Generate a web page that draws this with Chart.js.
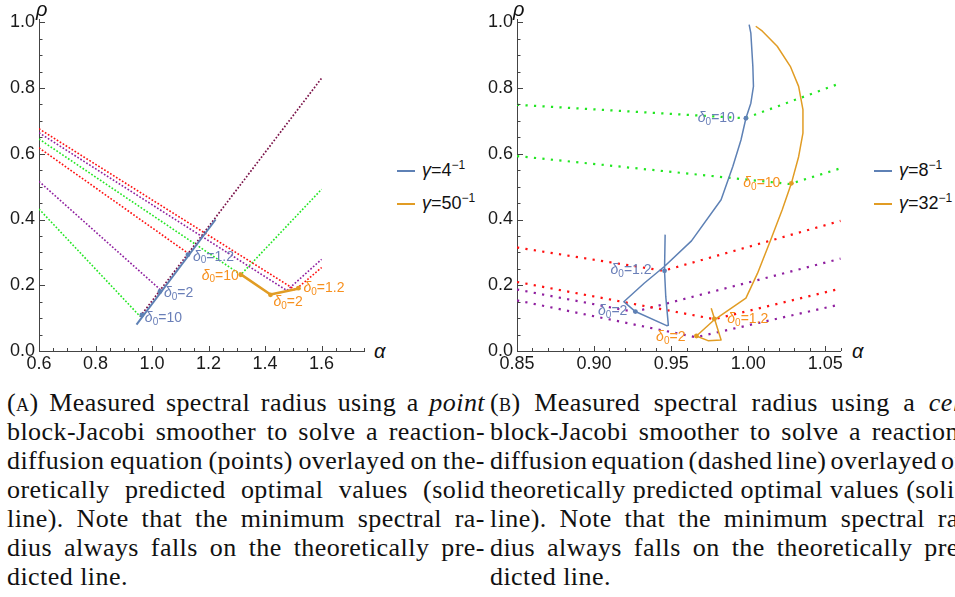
<!DOCTYPE html>
<html>
<head>
<meta charset="utf-8">
<script src="https://cdn.jsdelivr.net/npm/chart.js@4.4.1/dist/chart.umd.min.js"></script>
<style>
  html, body { margin: 0; padding: 0; background: #fff; }
  #page { position: relative; width: 955px; height: 597px; overflow: hidden; background: #fff;
          font-family: "Liberation Sans", Arial, sans-serif; }
  canvas { position: absolute; top: 0; }
  #chartA { left: 0; }
  #chartB { left: 478px; }
  .ax { position: absolute; font-style: italic; font-size: 20px; color: #111; line-height: 20px; }
  .leg { position: absolute; font-size: 18px; line-height: 18px; color: #111; white-space: nowrap; }
  .leg .sw { display: inline-block; width: 18px; height: 2px; vertical-align: middle; margin-right: 7px; }
  .leg sup { font-size: 12px; line-height: 0; vertical-align: 7px; }
  .cap { position: absolute; top: 388px; width: 478px; color: #111;
         font-family: "Liberation Serif", "Times New Roman", serif; font-size: 26px; line-height: 29px; }
  .cap .ln { display: flex; justify-content: space-between; white-space: nowrap; }
  .cap .ln.last { justify-content: flex-start; }
  .cap .ln.last span { margin-right: 7px; }
  x-sc { font-variant: small-caps; }
</style>
</head>
<body>
<div id="page">
  <canvas id="chartA" width="368" height="380"></canvas>
  <canvas id="chartB" width="367" height="380"></canvas>

  <div class="ax" style="left:36px;top:-1px">ρ</div>
  <div class="ax" style="left:374px;top:341px">α</div>
  <div class="ax" style="left:513px;top:-1px">ρ</div>
  <div class="ax" style="left:852px;top:341px">α</div>

  <div class="leg" style="left:397px;top:161px"><span class="sw" style="background:#5e81b5"></span><i>γ</i>=4<sup>−1</sup></div>
  <div class="leg" style="left:397px;top:194px"><span class="sw" style="background:#e19c24"></span><i>γ</i>=50<sup>−1</sup></div>
  <div class="leg" style="left:874px;top:161px"><span class="sw" style="background:#5e81b5"></span><i>γ</i>=8<sup>−1</sup></div>
  <div class="leg" style="left:874px;top:194px"><span class="sw" style="background:#e19c24"></span><i>γ</i>=32<sup>−1</sup></div>

  <div class="cap" id="capA" style="left:7px"></div>
  <div class="cap" id="capB" style="left:490px"></div>
</div>

<script>
// axis ticks
const yTicks = [0, 0.2, 0.4, 0.6, 0.8, 1.0];
const xTicksA = [0.6, 0.8, 1.0, 1.2, 1.4, 1.6];
const xTicksB = [0.85, 0.90, 0.95, 1.00, 1.05];
const deltaValues = ['10', '2', '1.2'];

// (A) point smoother: measured rho vs alpha (dotted), falling branches
const greenLowA  = [[0.6, 0.432], [0.958, 0.105]];
const purpleLowA = [[0.6, 0.516], [1.030, 0.186]];
const redLowA    = [[0.6, 0.618], [1.128, 0.297]];
// the three rising branches of the gamma=1/4 runs coincide
const sharedRiseA = [[0.958, 0.105], [1.6, 0.83]];
const greenHighA  = [[0.6, 0.645], [1.314, 0.232], [1.6, 0.492]];
const purpleHighA = [[0.6, 0.664], [1.477, 0.184], [1.6, 0.279]];
const redHighA    = [[0.6, 0.676], [1.507, 0.186], [1.6, 0.254]];
// (A) predicted optimum
const blueA   = [[0.945, 0.080], [1.225, 0.400]];
const orangeA = [[1.308, 0.237], [1.419, 0.172], [1.524, 0.191]];
const blueMarksA   = [[0.964, 0.110], [1.028, 0.181], [1.127, 0.293]];
const orangeMarksA = [[1.314, 0.232], [1.419, 0.171], [1.518, 0.191]];

// (B) cell smoother: measured rho vs alpha
const greenTopB  = [[0.85, 0.749], [0.998, 0.708], [1.06, 0.815]];
const greenMidB  = [[0.85, 0.593], [1.027, 0.508], [1.06, 0.556]];
const redTopB    = [[0.85, 0.315], [0.945, 0.244], [1.06, 0.396]];
const redLowB    = [[0.85, 0.210], [0.978, 0.097], [1.06, 0.190]];
const purpleTopB = [[0.85, 0.187], [0.926, 0.119], [1.06, 0.281]];
const purpleLowB = [[0.85, 0.154], [0.966, 0.042], [1.06, 0.142]];
// (B) predicted optimum
const blueB = [[0.9461, 0.354], [0.9457, 0.244], [0.9465, 0.166], [0.9482, 0.078], [0.9471, 0.077],
               [0.9268, 0.120], [0.9193, 0.150], [0.9325, 0.206], [0.9456, 0.257], [0.9632, 0.335],
               [0.9824, 0.460], [0.9900, 0.561], [0.9953, 0.642], [0.9985, 0.708], [1.0017, 0.754],
               [1.0034, 0.805], [1.0030, 0.866], [1.0017, 0.967], [1.0006, 0.993]];
const orangeB = [[0.9760, 0.130], [0.9824, 0.0335], [0.9739, 0.0315], [0.9664, 0.0457], [0.9780, 0.095],
                 [0.9985, 0.161], [1.0060, 0.236], [1.0145, 0.337], [1.0220, 0.429], [1.0280, 0.510],
                 [1.0327, 0.591], [1.0355, 0.663], [1.0355, 0.734], [1.0327, 0.805], [1.0273, 0.866],
                 [1.0188, 0.927], [1.0092, 0.973], [1.0049, 0.988]];
const blueMarksB   = [[0.9985, 0.708], [0.9268, 0.120], [0.9457, 0.244]];
const orangeMarksB = [[1.0280, 0.510], [0.9664, 0.0457], [0.9780, 0.0976]];

const captionA = [
  '<x-sc>(a)</x-sc> Measured spectral radius using a <i>point</i>',
  'block-Jacobi smoother to solve a reaction-',
  'diffusion equation (points) overlayed on the-',
  'oretically predicted optimal values (solid',
  'line). Note that the minimum spectral ra-',
  'dius always falls on the theoretically pre-',
  'dicted line.'
];
const captionB = [
  '<x-sc>(b)</x-sc> Measured spectral radius using a <i>cell</i>',
  'block-Jacobi smoother to solve a reaction-',
  'diffusion equation (dashed line) overlayed on',
  'theoretically predicted optimal values (solid',
  'line). Note that the minimum spectral ra-',
  'dius always falls on the theoretically pre-',
  'dicted line.'
];

const BLUE = '#5e81b5', ORANGE = '#e19c24';
const RED = '#ff1010', PURPLE = '#8f1f9f', GREEN = '#22e622', MAROON = '#7a1248';
const BLUE_TXT = '#6a7fb8', ORANGE_TXT = '#f7901e';

const pts = arr => arr.map(p => ({ x: p[0], y: p[1] }));

function dotted(arr, color, dash, width) {
  return { data: pts(arr), showLine: true, borderColor: color, borderWidth: width, borderDash: dash,
           borderCapStyle: 'butt', pointRadius: 0, tension: 0, order: 2 };
}
function solid(arr, color, width) {
  return { data: pts(arr), showLine: true, borderColor: color, borderWidth: width,
           borderJoinStyle: 'round', pointRadius: 0, tension: 0, order: 1 };
}
function marks(arr, color) {
  return { data: pts(arr), showLine: false, pointRadius: 2.4, pointBackgroundColor: color,
           pointBorderWidth: 0, order: 0 };
}

// Mathematica style ticks pointing into the plot
const innerTicks = {
  id: 'innerTicks',
  afterDraw(chart, args, opts) {
    const { ctx, chartArea, scales: { x, y } } = chart;
    ctx.save();
    ctx.strokeStyle = '#444';
    ctx.lineWidth = 1;
    for (let i = 0; opts.xStart + i * opts.xMinor <= x.max + 1e-9; i++) {
      const v = opts.xStart + i * opts.xMinor;
      const major = opts.xMajor.some(t => Math.abs(t - v) < 1e-6);
      const px = Math.round(x.getPixelForValue(v)) + 0.5;
      ctx.beginPath();
      ctx.moveTo(px, chartArea.bottom);
      ctx.lineTo(px, chartArea.bottom - (major ? 5 : 3));
      ctx.stroke();
    }
    for (let i = 0; i * 0.05 <= 1.0 + 1e-9; i++) {
      const v = i * 0.05;
      const major = yTicks.some(t => Math.abs(t - v) < 1e-6);
      const py = Math.round(y.getPixelForValue(v)) + 0.5;
      ctx.beginPath();
      ctx.moveTo(chartArea.left, py);
      ctx.lineTo(chartArea.left + (major ? 6 : 3.5), py);
      ctx.stroke();
    }
    ctx.restore();
  }
};

// delta_0 labels next to the marked points
const deltaLabels = {
  id: 'deltaLabels',
  afterDatasetsDraw(chart, args, opts) {
    const { ctx, scales: { x, y } } = chart;
    const big = '14px "Liberation Sans", Arial, sans-serif';
    const ital = 'italic ' + big;
    const small = '10px "Liberation Sans", Arial, sans-serif';
    ctx.save();
    ctx.textBaseline = 'middle';
    ctx.textAlign = 'left';
    opts.items.forEach(it => {
      const px = x.getPixelForValue(it.at[0]) + it.dx;
      const py = y.getPixelForValue(it.at[1]) + it.dy;
      ctx.font = ital; const w1 = ctx.measureText('δ').width;
      ctx.font = small; const w2 = ctx.measureText('0').width;
      ctx.font = big; const w3 = ctx.measureText('=' + it.text).width;
      const x0 = it.align === 'right' ? px - (w1 + w2 + w3) : px;
      ctx.fillStyle = it.color;
      ctx.font = ital; ctx.fillText('δ', x0, py);
      ctx.font = small; ctx.fillText('0', x0 + w1, py + 4);
      ctx.font = big; ctx.fillText('=' + it.text, x0 + w1 + w2, py);
    });
    ctx.restore();
  }
};

function labelItems(blueMarks, orangeMarks, blueOff, orangeOff) {
  const out = [];
  blueMarks.forEach((p, i) => out.push({ at: p, text: deltaValues[i], color: BLUE_TXT, ...blueOff[i] }));
  orangeMarks.forEach((p, i) => out.push({ at: p, text: deltaValues[i], color: ORANGE_TXT, ...orangeOff[i] }));
  return out;
}

function makeChart(id, xMin, xMax, xTicks, digits, xMinor, datasets, items) {
  const tickFont = { family: '"Liberation Sans", Arial, sans-serif', size: 18 };
  return new Chart(document.getElementById(id), {
    type: 'scatter',
    data: { datasets },
    options: {
      responsive: false,
      animation: false,
      layout: { padding: { top: 19, left: 0, right: 0, bottom: 0 } },
      plugins: {
        legend: { display: false },
        tooltip: { enabled: false },
        innerTicks: { xStart: xMin, xMinor, xMajor: xTicks },
        deltaLabels: { items }
      },
      scales: {
        x: {
          type: 'linear', min: xMin, max: xMax,
          grid: { display: false, drawTicks: false },
          border: { display: true, color: '#444', width: 1 },
          ticks: { font: tickFont, color: '#1a1a1a', padding: 2, maxRotation: 0, autoSkip: false,
                   callback: v => v.toFixed(digits) },
          afterBuildTicks: s => { s.ticks = xTicks.map(v => ({ value: v })); },
          afterFit: s => { s.height = 29; }
        },
        y: {
          type: 'linear', min: 0, max: 1.01,
          grid: { display: false, drawTicks: false },
          border: { display: true, color: '#444', width: 1 },
          ticks: { font: tickFont, color: '#1a1a1a', padding: 4, autoSkip: false,
                   callback: v => v.toFixed(1) },
          afterBuildTicks: s => { s.ticks = yTicks.map(v => ({ value: v })); },
          afterFit: s => { s.width = 39; }
        }
      }
    },
    plugins: [innerTicks, deltaLabels]
  });
}

const dashA = [1.7, 1.8], dashB = [2.2, 6.3];

makeChart('chartA', 0.6, 1.75, xTicksA, 1, 0.05, [
  marks(blueMarksA, BLUE), marks(orangeMarksA, ORANGE),
  solid(blueA, BLUE, 2), solid(orangeA, ORANGE, 2.6),
  dotted(sharedRiseA, MAROON, dashA, 1.7),
  dotted(purpleLowA, PURPLE, dashA, 1.6), dotted(redLowA, RED, dashA, 1.6), dotted(greenLowA, GREEN, dashA, 1.6),
  dotted(redHighA, RED, dashA, 1.6), dotted(purpleHighA, PURPLE, dashA, 1.6), dotted(greenHighA, GREEN, dashA, 1.6)
], labelItems(blueMarksA, orangeMarksA,
  [{ align: 'left', dx: 3, dy: 3 }, { align: 'left', dx: 4, dy: 2 }, { align: 'left', dx: 5, dy: 2 }],
  [{ align: 'right', dx: -2, dy: 1 }, { align: 'left', dx: 3, dy: 7 }, { align: 'left', dx: 5, dy: 0 }]));

makeChart('chartB', 0.85, 1.06, xTicksB, 2, 0.01, [
  marks(blueMarksB, BLUE), marks(orangeMarksB, ORANGE),
  solid(blueB, BLUE, 1.5), solid(orangeB, ORANGE, 1.5),
  dotted(greenTopB, GREEN, dashB, 2.2), dotted(greenMidB, GREEN, dashB, 2.2),
  dotted(redTopB, RED, dashB, 2.2), dotted(redLowB, RED, dashB, 2.2),
  dotted(purpleTopB, PURPLE, dashB, 2.2), dotted(purpleLowB, PURPLE, dashB, 2.2)
], labelItems(blueMarksB, orangeMarksB,
  [{ align: 'right', dx: -11, dy: 0 }, { align: 'right', dx: -8, dy: 0 }, { align: 'right', dx: -13, dy: -1 }],
  [{ align: 'right', dx: -11, dy: 0 }, { align: 'right', dx: -11, dy: 1 }, { align: 'left', dx: 13, dy: 0 }]));

function fillCaption(id, lines) {
  const box = document.getElementById(id);
  lines.forEach((line, i) => {
    const div = document.createElement('div');
    div.className = i === lines.length - 1 ? 'ln last' : 'ln';
    div.innerHTML = line.split(' ').map(w => `<span>${w}</span>`).join('');
    box.appendChild(div);
  });
}
fillCaption('capA', captionA);
fillCaption('capB', captionB);

// the tightest line of the caption should leave only normal word spaces
(function fitCaption() {
  const line = document.getElementById('capB').children[3];
  const spans = [...line.children];
  const words = spans.reduce((s, el) => s + el.getBoundingClientRect().width, 0);
  const chars = spans.reduce((s, el) => s + el.textContent.length, 0);
  let ls = (478 - (spans.length - 1) * 7 - words) / chars;
  ls = Math.max(-0.3, Math.min(1.5, ls));
  document.querySelectorAll('.cap').forEach(c => { c.style.letterSpacing = ls.toFixed(2) + 'px'; });
})();
</script>
</body>
</html>
